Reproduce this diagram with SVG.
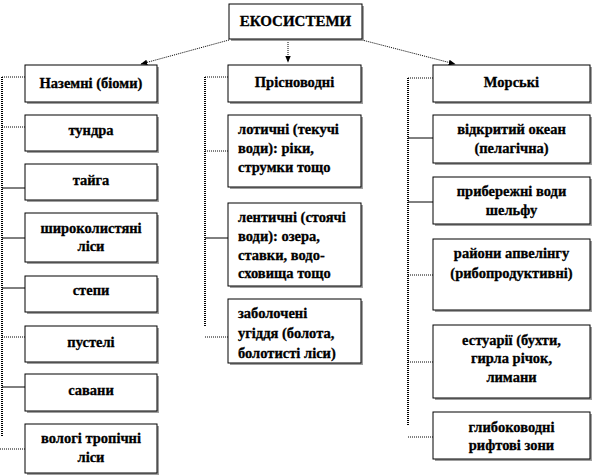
<svg xmlns="http://www.w3.org/2000/svg" width="592" height="476" viewBox="0 0 592 476">
<defs>
<marker id="ah" viewBox="0 0 10 10" refX="9" refY="5" markerWidth="7" markerHeight="7" orient="auto"><path d="M0,1 L10,5 L0,9 Z" fill="#000"/></marker>
<style>
.box{fill:#fff;stroke:#000;stroke-width:1}
.sh{fill:#a0a0a0}
text{font-family:'Liberation Serif','DejaVu Serif',serif;font-weight:bold;font-size:14.5px;fill:#000;stroke:#000;stroke-width:0.3}
.c{text-anchor:middle}
.dot{fill:none;stroke:#000;stroke-width:1;stroke-dasharray:1 1}
.sol{fill:none;stroke:#000;stroke-width:1}
.vl{fill:none;stroke:#000;stroke-width:2;stroke-dasharray:1 1}
</style>
</defs>
<rect width="592" height="476" fill="#fff"/>
<g id="connectors">
<path class="dot" d="M229,40 L141,64" marker-end="url(#ah)"/>
<path class="dot" d="M288,40 L288,62" marker-end="url(#ah)"/>
<path class="dot" d="M362,40 L455,64" marker-end="url(#ah)"/>
<path class="vl" d="M2,77 L2,437"/>
<path class="dot" d="M2,77 H25"/>
<path class="dot" d="M2,127 H25"/>
<path class="sol" d="M2,188 H25"/>
<path class="sol" d="M2,238 H25"/>
<path class="sol" d="M2,288 H25"/>
<path class="dot" d="M2,337 H25"/>
<path class="sol" d="M2,387 H25"/>
<path class="dot" d="M0,449 H25"/>
<path class="vl" d="M205,77 L205,327"/>
<path class="dot" d="M205,77 H228"/>
<path class="dot" d="M205,151 H228"/>
<path class="sol" d="M205,238 H228"/>
<path class="dot" d="M205,337 H228"/>
<path class="vl" d="M408,78 L408,426"/>
<path class="dot" d="M408,78 H433"/>
<path class="sol" d="M408,138 H433"/>
<path class="sol" d="M408,202 H433"/>
<path class="dot" d="M408,275 H433"/>
<path class="dot" d="M408,362 H433"/>
<path class="dot" d="M408,437 H433"/>
</g>
<g id="root"><rect class="sh" x="231" y="6" width="133" height="35"/><rect class="box" x="229" y="4" width="133" height="35"/><text class="c" x="295.5" y="26" style="font-size:15px">ЕКОСИСТЕМИ</text></g>
<g id="nazemni"><rect class="sh" x="27" y="67" width="132" height="37"/><rect class="box" x="25" y="65" width="132" height="37"/><text class="c" x="91" y="88">Наземні (біоми)</text></g>
<g id="tundra"><rect class="sh" x="27" y="117" width="132" height="36"/><rect class="box" x="25" y="115" width="132" height="36"/><text class="c" x="91" y="135">тундра</text></g>
<g id="taiga"><rect class="sh" x="27" y="166" width="132" height="36"/><rect class="box" x="25" y="164" width="132" height="36"/><text class="c" x="91" y="185">тайга</text></g>
<g id="shyrokolystiani"><rect class="sh" x="27" y="215" width="132" height="49"/><rect class="box" x="25" y="213" width="132" height="49"/><text class="c" x="91" y="233">широколистяні</text><text class="c" x="91" y="251">ліси</text></g>
<g id="stepy"><rect class="sh" x="27" y="278" width="132" height="36"/><rect class="box" x="25" y="276" width="132" height="36"/><text class="c" x="91" y="295">степи</text></g>
<g id="pusteli"><rect class="sh" x="27" y="328" width="132" height="36"/><rect class="box" x="25" y="326" width="132" height="36"/><text class="c" x="91" y="347">пустелі</text></g>
<g id="savany"><rect class="sh" x="27" y="376" width="132" height="37"/><rect class="box" x="25" y="374" width="132" height="37"/><text class="c" x="91" y="395">савани</text></g>
<g id="volohi"><rect class="sh" x="27" y="426" width="132" height="49"/><rect class="box" x="25" y="424" width="132" height="49"/><text class="c" x="91" y="443">вологі тропічні</text><text class="c" x="91" y="462">ліси</text></g>
<g id="prisnovodni"><rect class="sh" x="230" y="67" width="133" height="37"/><rect class="box" x="228" y="65" width="133" height="37"/><text class="c" x="294.5" y="87">Прісноводні</text></g>
<g id="lotychni"><rect class="sh" x="230" y="117" width="133" height="72"/><rect class="box" x="228" y="115" width="133" height="72"/><text x="238" y="134">лотичні (текучі</text><text x="238" y="153">води): ріки,</text><text x="238" y="172">струмки  тощо</text></g>
<g id="lentychni"><rect class="sh" x="230" y="205" width="133" height="83"/><rect class="box" x="228" y="203" width="133" height="83"/><text x="238" y="222">лентичні (стоячі</text><text x="238" y="241">води): озера,</text><text x="238" y="260">ставки, водо-</text><text x="238" y="278">сховища  тощо</text></g>
<g id="zabolocheni"><rect class="sh" x="230" y="301" width="133" height="64"/><rect class="box" x="228" y="299" width="133" height="64"/><text x="238" y="318">заболочені</text><text x="238" y="338">угіддя  (болота,</text><text x="238" y="358">болотисті ліси)</text></g>
<g id="morski"><rect class="sh" x="435" y="67" width="157" height="37"/><rect class="box" x="433" y="65" width="157" height="37"/><text class="c" x="511.5" y="87">Морські</text></g>
<g id="vidkrytyi"><rect class="sh" x="435" y="117" width="157" height="48"/><rect class="box" x="433" y="115" width="157" height="48"/><text class="c" x="511.5" y="134">відкритий  океан</text><text class="c" x="511.5" y="153">(пелагічна)</text></g>
<g id="pryberezhni"><rect class="sh" x="435" y="179" width="157" height="47"/><rect class="box" x="433" y="177" width="157" height="47"/><text class="c" x="511.5" y="196">прибережні води</text><text class="c" x="511.5" y="215">шельфу</text></g>
<g id="apvelinh"><rect class="sh" x="435" y="241" width="157" height="71"/><rect class="box" x="433" y="239" width="157" height="71"/><text class="c" x="511.5" y="258">райони апвелінгу</text><text class="c" x="511.5" y="278">(рибопродуктивні)</text></g>
<g id="estuarii"><rect class="sh" x="435" y="327" width="157" height="73"/><rect class="box" x="433" y="325" width="157" height="73"/><text class="c" x="511.5" y="345">естуарії  (бухти,</text><text class="c" x="511.5" y="363">гирла річок,</text><text class="c" x="511.5" y="382">лимани</text></g>
<g id="hlybokovodni"><rect class="sh" x="435" y="414" width="157" height="47"/><rect class="box" x="433" y="412" width="157" height="47"/><text class="c" x="511.5" y="432">глибоководні</text><text class="c" x="511.5" y="450">рифтові зони</text></g>
</svg>
